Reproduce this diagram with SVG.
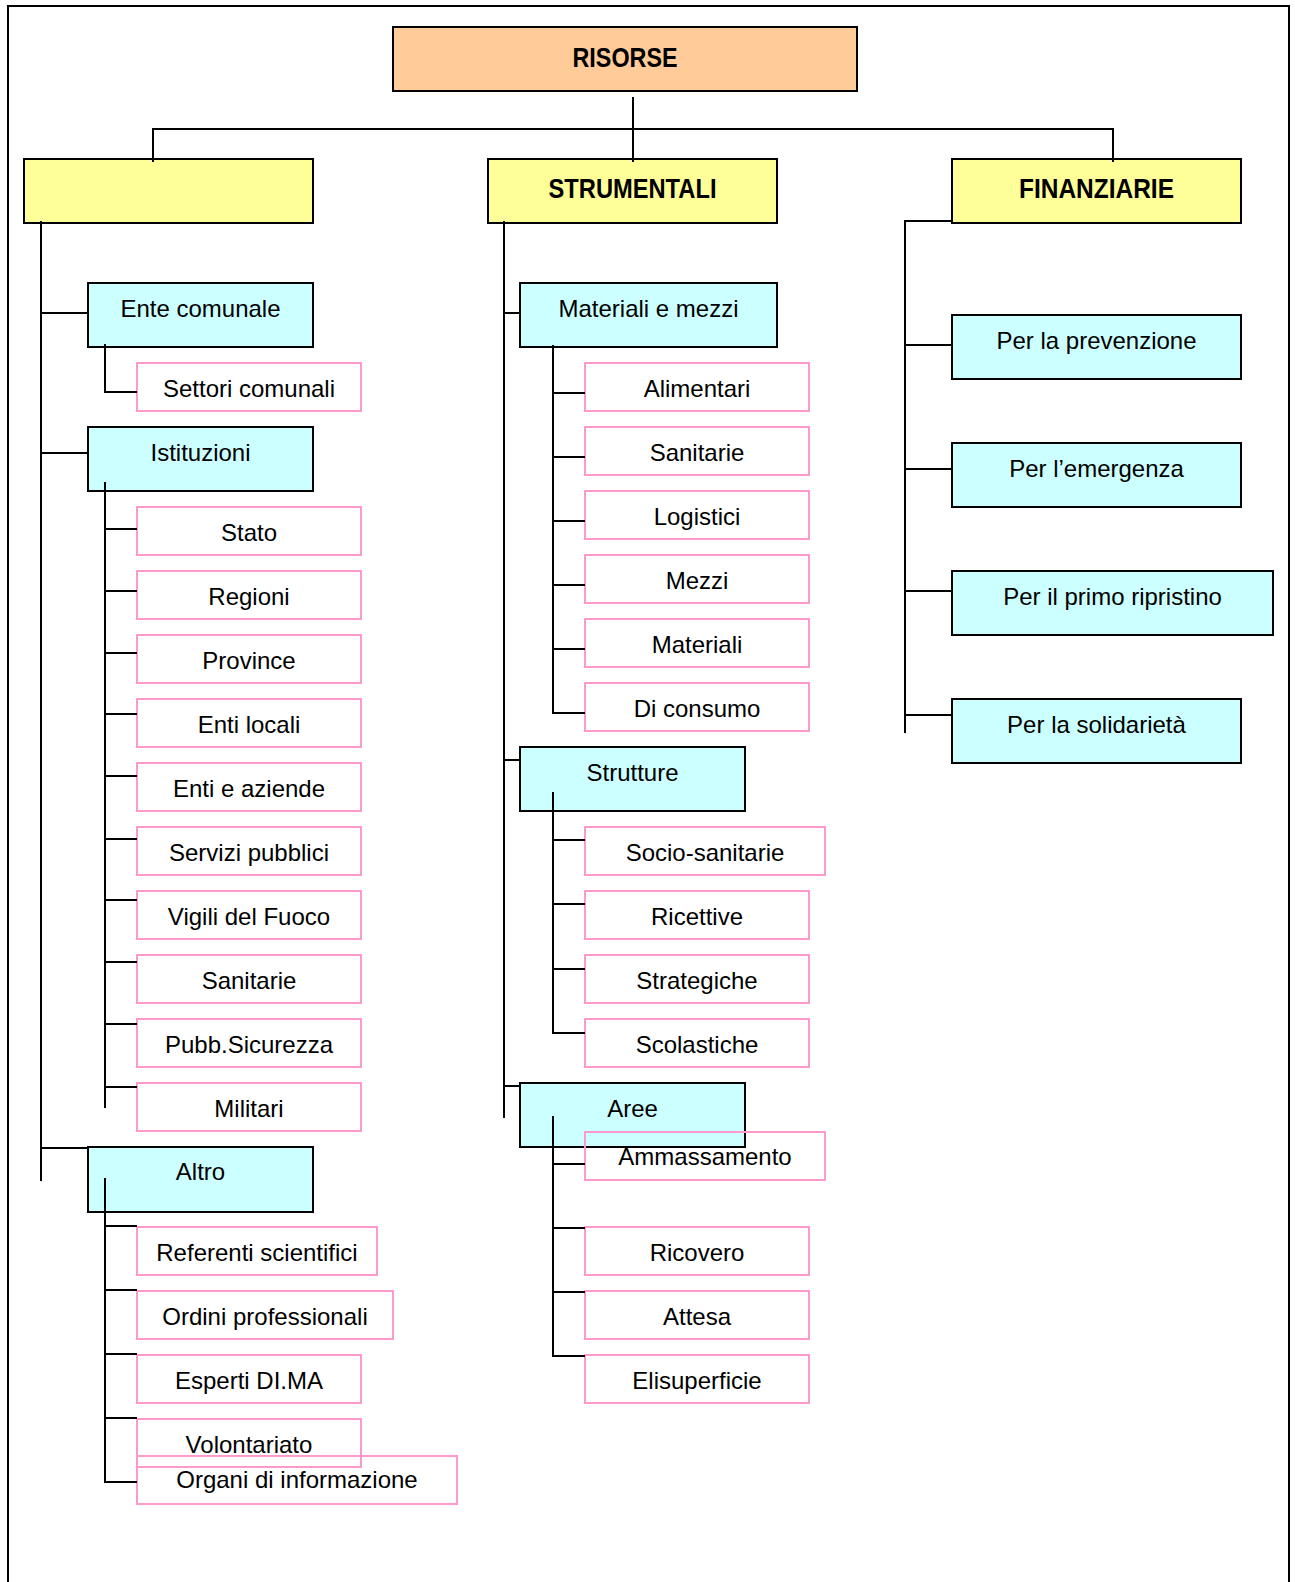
<svg xmlns="http://www.w3.org/2000/svg" width="1295" height="1582" viewBox="0 0 1295 1582">
<style>
.frame{fill:none;stroke:#000;stroke-width:2}
.root{fill:#FFCC99;stroke:#000;stroke-width:2}
.l1{fill:#FFFF99;stroke:#000;stroke-width:2}
.l2{fill:#CCFFFF;stroke:#000;stroke-width:2}
.l3{fill:none;stroke:#FF99CC;stroke-width:2}
.t{font-family:"Liberation Sans",Arial,sans-serif;font-size:24px;fill:#000;text-anchor:middle}
.tb{font-family:"Liberation Sans",Arial,sans-serif;font-size:28px;font-weight:bold;fill:#000;text-anchor:middle}
#connectors path{fill:none;stroke:#000;stroke-width:2}
</style>
<rect class="frame" x="8" y="6" width="1281" height="1600"/>

<g id="n-risorse"><rect class="root" x="393" y="27" width="464" height="64"/><text class="tb" x="625" y="67" textLength="105" lengthAdjust="spacingAndGlyphs">RISORSE</text></g>

<g id="n-umane"><rect class="l1" x="24" y="159" width="289" height="64"/></g>
<g id="n-strumentali"><rect class="l1" x="488" y="159" width="289" height="64"/><text class="tb" x="632.5" y="198" textLength="168" lengthAdjust="spacingAndGlyphs">STRUMENTALI</text></g>
<g id="n-finanziarie"><rect class="l1" x="952" y="159" width="289" height="64"/><text class="tb" x="1096.5" y="198" textLength="155" lengthAdjust="spacingAndGlyphs">FINANZIARIE</text></g>

<!-- left column -->
<g id="n-ente"><rect class="l2" x="88" y="283" width="225" height="64"/><text class="t" x="200.5" y="317">Ente comunale</text></g>
<g id="n-settori"><rect class="l3" x="137" y="363" width="224" height="48"/><text class="t" x="249" y="397">Settori comunali</text></g>
<g id="n-istituzioni"><rect class="l2" x="88" y="427" width="225" height="64"/><text class="t" x="200.5" y="461">Istituzioni</text></g>
<g id="n-stato"><rect class="l3" x="137" y="507" width="224" height="48"/><text class="t" x="249" y="541">Stato</text></g>
<g id="n-regioni"><rect class="l3" x="137" y="571" width="224" height="48"/><text class="t" x="249" y="605">Regioni</text></g>
<g id="n-province"><rect class="l3" x="137" y="635" width="224" height="48"/><text class="t" x="249" y="669">Province</text></g>
<g id="n-entilocali"><rect class="l3" x="137" y="699" width="224" height="48"/><text class="t" x="249" y="733">Enti locali</text></g>
<g id="n-entiaziende"><rect class="l3" x="137" y="763" width="224" height="48"/><text class="t" x="249" y="797">Enti e aziende</text></g>
<g id="n-servizi"><rect class="l3" x="137" y="827" width="224" height="48"/><text class="t" x="249" y="861">Servizi pubblici</text></g>
<g id="n-vigili"><rect class="l3" x="137" y="891" width="224" height="48"/><text class="t" x="249" y="925">Vigili del Fuoco</text></g>
<g id="n-sanitarie1"><rect class="l3" x="137" y="955" width="224" height="48"/><text class="t" x="249" y="989">Sanitarie</text></g>
<g id="n-pubb"><rect class="l3" x="137" y="1019" width="224" height="48"/><text class="t" x="249" y="1053">Pubb.Sicurezza</text></g>
<g id="n-militari"><rect class="l3" x="137" y="1083" width="224" height="48"/><text class="t" x="249" y="1117">Militari</text></g>
<g id="n-altro"><rect class="l2" x="88" y="1147" width="225" height="65"/><text class="t" x="200.5" y="1180">Altro</text></g>
<g id="n-referenti"><rect class="l3" x="137" y="1227" width="240" height="48"/><text class="t" x="257" y="1261">Referenti scientifici</text></g>
<g id="n-ordini"><rect class="l3" x="137" y="1291" width="256" height="48"/><text class="t" x="265" y="1325">Ordini professionali</text></g>
<g id="n-esperti"><rect class="l3" x="137" y="1355" width="224" height="48"/><text class="t" x="249" y="1389">Esperti DI.MA</text></g>
<g id="n-volontariato"><rect class="l3" x="137" y="1419" width="224" height="48"/><text class="t" x="249" y="1453">Volontariato</text></g>
<g id="n-organi"><rect class="l3" x="137" y="1456" width="320" height="48"/><text class="t" x="297" y="1488">Organi di informazione</text></g>

<!-- middle column -->
<g id="n-materialimezzi"><rect class="l2" x="520" y="283" width="257" height="64"/><text class="t" x="648.5" y="317">Materiali e mezzi</text></g>
<g id="n-alimentari"><rect class="l3" x="585" y="363" width="224" height="48"/><text class="t" x="697" y="397">Alimentari</text></g>
<g id="n-sanitarie2"><rect class="l3" x="585" y="427" width="224" height="48"/><text class="t" x="697" y="461">Sanitarie</text></g>
<g id="n-logistici"><rect class="l3" x="585" y="491" width="224" height="48"/><text class="t" x="697" y="525">Logistici</text></g>
<g id="n-mezzi"><rect class="l3" x="585" y="555" width="224" height="48"/><text class="t" x="697" y="589">Mezzi</text></g>
<g id="n-materiali"><rect class="l3" x="585" y="619" width="224" height="48"/><text class="t" x="697" y="653">Materiali</text></g>
<g id="n-consumo"><rect class="l3" x="585" y="683" width="224" height="48"/><text class="t" x="697" y="717">Di consumo</text></g>
<g id="n-strutture"><rect class="l2" x="520" y="747" width="225" height="64"/><text class="t" x="632.5" y="781">Strutture</text></g>
<g id="n-socio"><rect class="l3" x="585" y="827" width="240" height="48"/><text class="t" x="705" y="861">Socio-sanitarie</text></g>
<g id="n-ricettive"><rect class="l3" x="585" y="891" width="224" height="48"/><text class="t" x="697" y="925">Ricettive</text></g>
<g id="n-strategiche"><rect class="l3" x="585" y="955" width="224" height="48"/><text class="t" x="697" y="989">Strategiche</text></g>
<g id="n-scolastiche"><rect class="l3" x="585" y="1019" width="224" height="48"/><text class="t" x="697" y="1053">Scolastiche</text></g>
<g id="n-aree"><rect class="l2" x="520" y="1083" width="225" height="64"/><text class="t" x="632.5" y="1117">Aree</text></g>
<g id="n-ammassamento"><rect class="l3" x="585" y="1132" width="240" height="48"/><text class="t" x="705" y="1165">Ammassamento</text></g>
<g id="n-ricovero"><rect class="l3" x="585" y="1227" width="224" height="48"/><text class="t" x="697" y="1261">Ricovero</text></g>
<g id="n-attesa"><rect class="l3" x="585" y="1291" width="224" height="48"/><text class="t" x="697" y="1325">Attesa</text></g>
<g id="n-elisuperficie"><rect class="l3" x="585" y="1355" width="224" height="48"/><text class="t" x="697" y="1389">Elisuperficie</text></g>

<!-- right column -->
<g id="n-prevenzione"><rect class="l2" x="952" y="315" width="289" height="64"/><text class="t" x="1096.5" y="349">Per la prevenzione</text></g>
<g id="n-emergenza"><rect class="l2" x="952" y="443" width="289" height="64"/><text class="t" x="1096.5" y="477">Per l’emergenza</text></g>
<g id="n-ripristino"><rect class="l2" x="952" y="571" width="321" height="64"/><text class="t" x="1112.5" y="605">Per il primo ripristino</text></g>
<g id="n-solidarieta"><rect class="l2" x="952" y="699" width="289" height="64"/><text class="t" x="1096.5" y="733">Per la solidarietà</text></g>

<g id="connectors">
<path d="M633 97V162M153 162V129H1113V162"/>
<!-- left -->
<path d="M41 221V1181M41 313H88M41 453H88M41 1148H88"/>
<path d="M105 344V392H137"/>
<path d="M105 482V1108M105 529H137M105 591H137M105 653H137M105 714H137M105 776H137M105 839H137M105 900H137M105 962H137M105 1024H137M105 1087H137"/>
<path d="M105 1178V1482H137M105 1226H137M105 1290H137M105 1354H137M105 1418H137"/>
<!-- middle -->
<path d="M504 221V1118M504 313H520M504 760H520M504 1086H520"/>
<path d="M553 345V713H585M553 393H585M553 457H585M553 521H585M553 585H585M553 649H585"/>
<path d="M553 792V1033H585M553 840H585M553 904H585M553 969H585"/>
<path d="M553 1116V1356H585M553 1164H585M553 1228H585M553 1292H585"/>
<!-- right -->
<path d="M952 221H905V733M905 345H952M905 469H952M905 591H952M905 715H952"/>
</g>
</svg>
